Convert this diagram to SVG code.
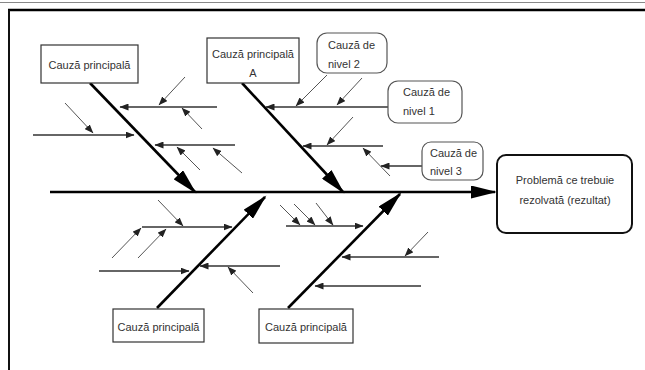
<svg xmlns="http://www.w3.org/2000/svg" width="645" height="370" viewBox="0 0 645 370">
<style>
text{font-family:"Liberation Sans",Arial,sans-serif;font-size:11px;fill:#333}
.box{fill:#fff;stroke:#333;stroke-width:1.2}
.call{fill:#fff;stroke:#555;stroke-width:1.2}
.main{stroke:#000;stroke-width:2.6;fill:none;marker-end:url(#big)}
.sub{stroke:#333;stroke-width:1.5;fill:none;marker-end:url(#sm)}
.tw{stroke:#555;stroke-width:1;fill:none;marker-end:url(#sm)}
</style>
<defs>
<marker id="big" markerUnits="userSpaceOnUse" markerWidth="28" markerHeight="13" refX="24" refY="6.5" orient="auto">
<path d="M0,0 L26,6.5 L0,13 z" fill="#000"/>
</marker>
<marker id="sm" markerUnits="userSpaceOnUse" markerWidth="10" markerHeight="7" refX="8.5" refY="3.5" orient="auto">
<path d="M0,0 L9,3.5 L0,7 z" fill="#222"/>
</marker>
</defs>
<rect width="645" height="370" fill="#fff"/>
<g id="frame">
<line x1="0" y1="2.5" x2="645" y2="2.5" stroke="#888" stroke-width="1"/>
<line x1="8" y1="10" x2="645" y2="10" stroke="#000" stroke-width="2.5"/>
<line x1="9" y1="10" x2="9" y2="370" stroke="#111" stroke-width="2"/>
</g>
<g id="connectors">
<line class="main" x1="50" y1="192" x2="495" y2="192"/>
<line class="main" x1="90" y1="83" x2="195" y2="192"/>
<line class="main" x1="242" y1="83" x2="343" y2="192"/>
<line class="main" x1="157" y1="308" x2="265" y2="197"/>
<line class="main" x1="288" y1="308" x2="400" y2="194"/>
<line class="sub" x1="217" y1="107" x2="120" y2="107"/>
<line class="tw" x1="185" y1="77" x2="159" y2="105"/>
<line class="tw" x1="202" y1="129" x2="182" y2="108"/>
<line class="sub" x1="33" y1="135" x2="134" y2="135"/>
<line class="tw" x1="65" y1="103" x2="93" y2="133"/>
<line class="sub" x1="235" y1="145" x2="155" y2="145"/>
<line class="tw" x1="200" y1="170" x2="177" y2="147"/>
<line class="tw" x1="242" y1="173" x2="213" y2="148"/>
<line class="sub" x1="388" y1="107" x2="266" y2="107"/>
<line class="tw" x1="327" y1="75" x2="296" y2="106"/>
<line class="tw" x1="362" y1="78" x2="337" y2="105"/>
<line class="sub" x1="383" y1="146" x2="303" y2="146"/>
<line class="tw" x1="353" y1="117" x2="327" y2="145"/>
<line class="tw" x1="390" y1="176" x2="363" y2="148"/>
<line class="sub" x1="422" y1="166" x2="381" y2="166"/>
<line class="sub" x1="142" y1="227" x2="232" y2="227"/>
<line class="tw" x1="158" y1="200" x2="183" y2="226"/>
<line class="tw" x1="112" y1="258" x2="141" y2="228"/>
<line class="tw" x1="138" y1="258" x2="166" y2="229"/>
<line class="sub" x1="99" y1="271" x2="189" y2="271"/>
<line class="sub" x1="280" y1="266" x2="200" y2="266"/>
<line class="tw" x1="253" y1="293" x2="228" y2="267"/>
<line class="sub" x1="286" y1="226" x2="363" y2="226"/>
<line class="tw" x1="280" y1="205" x2="300" y2="225"/>
<line class="tw" x1="294" y1="204" x2="315" y2="225"/>
<line class="tw" x1="316" y1="203" x2="333" y2="225"/>
<line class="sub" x1="439" y1="257" x2="342" y2="257"/>
<line class="tw" x1="428" y1="232" x2="405" y2="256"/>
<line class="sub" x1="421" y1="286" x2="315" y2="286"/>
</g>
<g id="effect">
<rect x="497" y="155" width="135" height="78" rx="9" fill="#fff" stroke="#111" stroke-width="2"/>
<text x="565" y="184" text-anchor="middle">Problemă ce trebuie</text>
<text x="565" y="204" text-anchor="middle">rezolvată (rezultat)</text>
</g>
<g id="cause-top-left">
<rect class="box" x="41" y="45" width="97" height="38"/>
<text x="89.5" y="69" text-anchor="middle">Cauză principală</text>
</g>
<g id="cause-top-A">
<rect class="box" x="207" y="38" width="92" height="45"/>
<text x="253" y="58" text-anchor="middle">Cauză principală</text>
<text x="253" y="77" text-anchor="middle">A</text>
</g>
<g id="cause-bottom-left">
<rect class="box" x="113" y="309" width="91" height="33"/>
<text x="158.5" y="331" text-anchor="middle">Cauză principală</text>
</g>
<g id="cause-bottom-right">
<rect class="box" x="259" y="309" width="94" height="34"/>
<text x="306" y="331" text-anchor="middle">Cauză principală</text>
</g>
<g id="level2">
<rect class="call" x="317" y="33" width="70" height="40" rx="10"/>
<text x="328" y="49">Cauză de</text>
<text x="328" y="68">nivel 2</text>
</g>
<g id="level1">
<rect class="call" x="388" y="81" width="74" height="42" rx="10"/>
<text x="403" y="96">Cauză de</text>
<text x="403" y="115">nivel 1</text>
</g>
<g id="level3">
<rect class="call" x="422" y="142" width="61" height="38" rx="9"/>
<text x="430" y="157">Cauză de</text>
<text x="430" y="175">nivel 3</text>
</g>
</svg>
